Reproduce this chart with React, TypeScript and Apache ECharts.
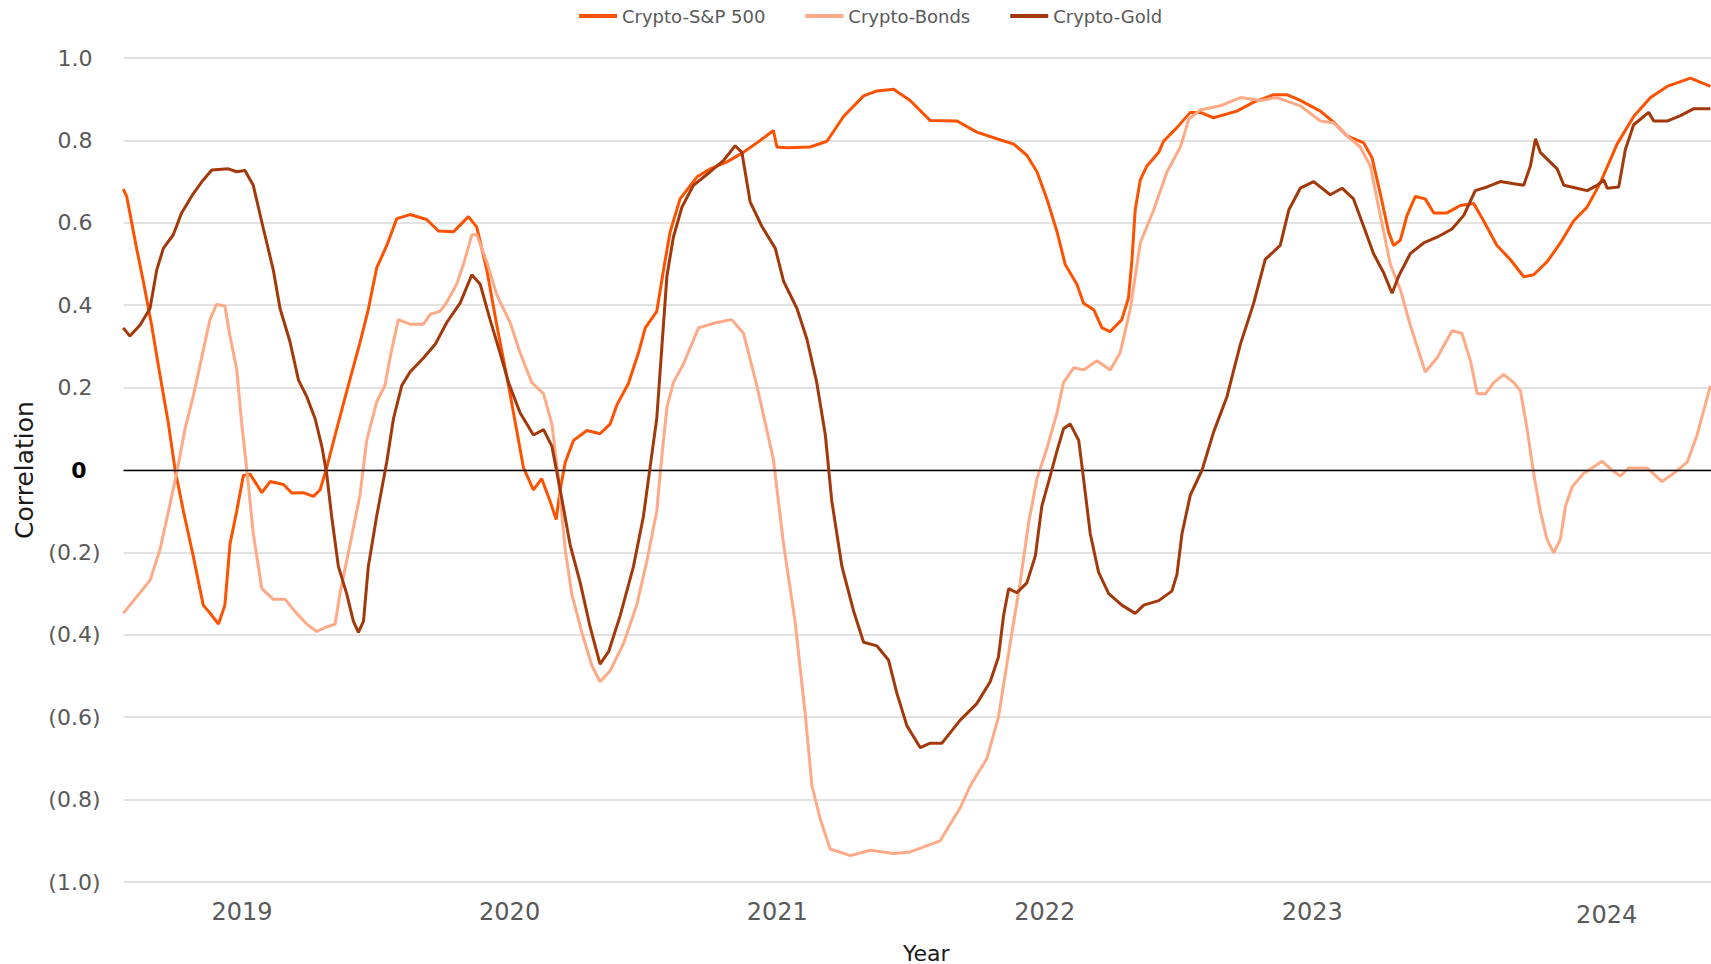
import React, { useEffect, useRef } from "react";
import * as echarts from "echarts";

const seriesNames = ["Crypto-S&P 500", "Crypto-Bonds", "Crypto-Gold"];
const seriesColors = ["#FF5200", "#FFAA86", "#A3390A"];
const yearLabelValues = [2019, 2020, 2021, 2022, 2023, 2024.1];

const spxT = [
  2018.556, 2018.569, 2018.606, 2018.631, 2018.662, 2018.693, 2018.725, 2018.75, 2018.781, 2018.818,
  2018.855, 2018.88, 2018.912, 2018.936, 2018.955, 2018.98, 2019.005, 2019.03, 2019.074, 2019.105,
  2019.155, 2019.186, 2019.229, 2019.267, 2019.292, 2019.317, 2019.354, 2019.391, 2019.441, 2019.472,
  2019.503, 2019.541, 2019.578, 2019.628, 2019.69, 2019.734, 2019.79, 2019.846, 2019.877, 2019.915,
  2019.952, 2019.996, 2020.052, 2020.089, 2020.12, 2020.151, 2020.174, 2020.189, 2020.208, 2020.239,
  2020.289, 2020.338, 2020.376, 2020.401, 2020.444, 2020.482, 2020.507, 2020.55, 2020.575, 2020.6,
  2020.637, 2020.7, 2020.75, 2020.812, 2020.874, 2020.924, 2020.986, 2020.999, 2021.036, 2021.123,
  2021.186, 2021.248, 2021.323, 2021.373, 2021.435, 2021.497, 2021.572, 2021.672, 2021.746, 2021.821,
  2021.884, 2021.933, 2021.971, 2022.008, 2022.046, 2022.077, 2022.12, 2022.145, 2022.183, 2022.214,
  2022.245, 2022.288, 2022.313, 2022.326, 2022.338, 2022.357, 2022.382, 2022.426, 2022.444, 2022.494,
  2022.544, 2022.581, 2022.631, 2022.718, 2022.781, 2022.855, 2022.905, 2022.955, 2023.03, 2023.08,
  2023.13, 2023.192, 2023.223, 2023.254, 2023.285, 2023.304, 2023.329, 2023.354, 2023.385, 2023.422,
  2023.454, 2023.503, 2023.553, 2023.603, 2023.64, 2023.69, 2023.74, 2023.79, 2023.827, 2023.877,
  2023.927, 2023.977, 2024.027, 2024.077, 2024.139, 2024.201, 2024.264, 2024.326, 2024.413, 2024.488,
];
const spxV = [
  0.682, 0.664, 0.538, 0.458, 0.352, 0.232, 0.112, 0.0, -0.1, -0.21,
  -0.328, -0.347, -0.374, -0.328, -0.18, -0.1, -0.013, -0.01, -0.055, -0.028,
  -0.035, -0.056, -0.055, -0.064, -0.048, 0.007, 0.1, 0.19, 0.31, 0.39,
  0.49, 0.545, 0.61, 0.62, 0.608, 0.58, 0.578, 0.615, 0.59, 0.485,
  0.352, 0.205, 0.005, -0.048, -0.021, -0.075, -0.12, -0.048, 0.019, 0.072,
  0.096, 0.088, 0.112, 0.158, 0.21, 0.285, 0.345, 0.385, 0.485, 0.578,
  0.658, 0.711, 0.731, 0.748, 0.771, 0.794, 0.824, 0.784, 0.782, 0.784,
  0.798, 0.858, 0.908, 0.92, 0.924, 0.897, 0.848, 0.847, 0.82, 0.804,
  0.791, 0.764, 0.724, 0.658, 0.578, 0.498, 0.451, 0.405, 0.389, 0.345,
  0.336, 0.365, 0.418, 0.511, 0.631, 0.704, 0.738, 0.771, 0.798, 0.831,
  0.868, 0.868, 0.855, 0.871, 0.893, 0.911, 0.911, 0.897, 0.871, 0.844,
  0.811, 0.794, 0.758, 0.671, 0.578, 0.545, 0.558, 0.618, 0.664, 0.658,
  0.624, 0.624, 0.642, 0.647, 0.605, 0.545, 0.511, 0.469, 0.474, 0.505,
  0.551, 0.605, 0.638, 0.698, 0.791, 0.858, 0.904, 0.931, 0.951, 0.931,
];

const bondsT = [
  2018.556, 2018.606, 2018.656, 2018.693, 2018.725, 2018.756, 2018.787, 2018.818, 2018.849, 2018.88,
  2018.905, 2018.936, 2018.955, 2018.98, 2018.999, 2019.017, 2019.042, 2019.074, 2019.117, 2019.161,
  2019.204, 2019.242, 2019.279, 2019.316, 2019.348, 2019.366, 2019.404, 2019.441, 2019.466, 2019.503,
  2019.534, 2019.553, 2019.584, 2019.628, 2019.678, 2019.703, 2019.74, 2019.765, 2019.802, 2019.827,
  2019.859, 2019.877, 2019.915, 2019.952, 2020.002, 2020.039, 2020.083, 2020.127, 2020.158, 2020.183,
  2020.208, 2020.232, 2020.27, 2020.307, 2020.338, 2020.376, 2020.426, 2020.475, 2020.513, 2020.55,
  2020.569, 2020.588, 2020.612, 2020.65, 2020.706, 2020.774, 2020.83, 2020.874, 2020.924, 2020.986,
  2021.024, 2021.067, 2021.105, 2021.13, 2021.161, 2021.198, 2021.273, 2021.348, 2021.435, 2021.497,
  2021.609, 2021.684, 2021.721, 2021.784, 2021.827, 2021.871, 2021.908, 2021.94, 2021.971, 2022.008,
  2022.046, 2022.07, 2022.108, 2022.145, 2022.195, 2022.245, 2022.282, 2022.32, 2022.357, 2022.407,
  2022.457, 2022.507, 2022.538, 2022.581, 2022.656, 2022.731, 2022.806, 2022.868, 2022.955, 2023.03,
  2023.08, 2023.13, 2023.179, 2023.217, 2023.254, 2023.292, 2023.329, 2023.366, 2023.422, 2023.466,
  2023.522, 2023.559, 2023.591, 2023.616, 2023.647, 2023.678, 2023.715, 2023.753, 2023.778, 2023.803,
  2023.827, 2023.852, 2023.877, 2023.902, 2023.927, 2023.946, 2023.971, 2024.014, 2024.052, 2024.083,
  2024.12, 2024.151, 2024.182, 2024.251, 2024.307, 2024.351, 2024.401, 2024.438, 2024.488,
];
const bondsV = [
  -0.348, -0.308, -0.268, -0.194, -0.1, -0.007, 0.1, 0.18, 0.272, 0.365,
  0.402, 0.398, 0.325, 0.245, 0.112, 0.006, -0.154, -0.288, -0.314, -0.314,
  -0.348, -0.374, -0.392, -0.381, -0.374, -0.3, -0.18, -0.06, 0.072, 0.165,
  0.205, 0.272, 0.365, 0.354, 0.354, 0.378, 0.385, 0.407, 0.451, 0.498,
  0.571, 0.571, 0.505, 0.425, 0.358, 0.285, 0.212, 0.185, 0.112, -0.021,
  -0.194, -0.3, -0.394, -0.474, -0.514, -0.487, -0.421, -0.328, -0.221, -0.1,
  0.033, 0.152, 0.212, 0.258, 0.345, 0.358, 0.365, 0.332, 0.205, 0.025,
  -0.181, -0.368, -0.594, -0.767, -0.847, -0.92, -0.936, -0.923, -0.931, -0.927,
  -0.9, -0.82, -0.767, -0.7, -0.6, -0.42, -0.274, -0.127, -0.021, 0.052,
  0.139, 0.212, 0.248, 0.243, 0.265, 0.243, 0.285, 0.392, 0.551, 0.631,
  0.724, 0.784, 0.851, 0.874, 0.884, 0.904, 0.897, 0.904, 0.884, 0.847,
  0.842, 0.811, 0.784, 0.738, 0.618, 0.498, 0.438, 0.352, 0.238, 0.272,
  0.338, 0.332, 0.265, 0.185, 0.185, 0.212, 0.232, 0.212, 0.192, 0.098,
  -0.007, -0.1, -0.168, -0.201, -0.168, -0.088, -0.041, -0.008, 0.008, 0.021,
  0.0, -0.015, 0.005, 0.005, -0.028, -0.008, 0.019, 0.085, 0.205,
];

const goldT = [
  2018.556, 2018.581, 2018.619, 2018.656, 2018.681, 2018.706, 2018.743, 2018.774, 2018.818, 2018.855,
  2018.887, 2018.949, 2018.98, 2019.011, 2019.042, 2019.08, 2019.117, 2019.142, 2019.179, 2019.211,
  2019.242, 2019.273, 2019.298, 2019.316, 2019.335, 2019.36, 2019.391, 2019.416, 2019.435, 2019.454,
  2019.472, 2019.503, 2019.541, 2019.566, 2019.597, 2019.628, 2019.678, 2019.722, 2019.765, 2019.815,
  2019.859, 2019.89, 2019.927, 2019.964, 2019.996, 2020.039, 2020.089, 2020.127, 2020.158, 2020.189,
  2020.226, 2020.264, 2020.301, 2020.338, 2020.37, 2020.413, 2020.463, 2020.5, 2020.525, 2020.55,
  2020.569, 2020.588, 2020.612, 2020.644, 2020.687, 2020.75, 2020.799, 2020.843, 2020.868, 2020.899,
  2020.943, 2020.993, 2021.024, 2021.074, 2021.111, 2021.148, 2021.18, 2021.204, 2021.242, 2021.285,
  2021.323, 2021.373, 2021.416, 2021.447, 2021.485, 2021.535, 2021.572, 2021.616, 2021.684, 2021.746,
  2021.796, 2021.827, 2021.846, 2021.865, 2021.896, 2021.933, 2021.965, 2021.989, 2022.021, 2022.046,
  2022.07, 2022.095, 2022.127, 2022.145, 2022.17, 2022.201, 2022.239, 2022.288, 2022.338, 2022.37,
  2022.426, 2022.475, 2022.494, 2022.513, 2022.544, 2022.588, 2022.631, 2022.681, 2022.731, 2022.781,
  2022.824, 2022.88, 2022.912, 2022.955, 2023.005, 2023.067, 2023.111, 2023.154, 2023.192, 2023.229,
  2023.267, 2023.298, 2023.323, 2023.366, 2023.416, 2023.466, 2023.522, 2023.566, 2023.609, 2023.653,
  2023.703, 2023.753, 2023.79, 2023.815, 2023.834, 2023.852, 2023.915, 2023.94, 2023.989, 2024.027,
  2024.064, 2024.089, 2024.102, 2024.145, 2024.17, 2024.201, 2024.257, 2024.276, 2024.326, 2024.376,
  2024.426, 2024.488,
];
const goldV = [
  0.345, 0.325, 0.352, 0.392, 0.485, 0.538, 0.571, 0.624, 0.671, 0.704,
  0.728, 0.731, 0.724, 0.727, 0.691, 0.585, 0.485, 0.392, 0.312, 0.218,
  0.178, 0.125, 0.058, -0.007, -0.113, -0.234, -0.3, -0.367, -0.394, -0.367,
  -0.234, -0.113, 0.02, 0.125, 0.205, 0.238, 0.272, 0.305, 0.358, 0.405,
  0.474, 0.451, 0.365, 0.285, 0.212, 0.139, 0.085, 0.098, 0.058, -0.048,
  -0.181, -0.274, -0.381, -0.471, -0.441, -0.354, -0.234, -0.113, 0.007, 0.125,
  0.298, 0.471, 0.565, 0.638, 0.691, 0.724, 0.751, 0.787, 0.771, 0.651,
  0.591, 0.538, 0.458, 0.392, 0.318, 0.212, 0.085, -0.075, -0.234, -0.341,
  -0.418, -0.427, -0.461, -0.541, -0.621, -0.674, -0.663, -0.663, -0.607, -0.567,
  -0.514, -0.454, -0.354, -0.288, -0.298, -0.274, -0.208, -0.088, -0.013, 0.047,
  0.1, 0.112, 0.072, -0.021, -0.154, -0.248, -0.3, -0.328, -0.348, -0.328,
  -0.317, -0.294, -0.254, -0.154, -0.061, 0.0, 0.092, 0.178, 0.305, 0.405,
  0.511, 0.545, 0.631, 0.684, 0.7, 0.668, 0.684, 0.658, 0.591, 0.525,
  0.478, 0.429, 0.471, 0.525, 0.551, 0.565, 0.585, 0.618, 0.678, 0.687,
  0.7, 0.695, 0.691, 0.738, 0.804, 0.771, 0.731, 0.691, 0.684, 0.678,
  0.691, 0.704, 0.684, 0.687, 0.778, 0.838, 0.868, 0.847, 0.847, 0.86,
  0.877, 0.877,
];

const zip = (t: number[], v: number[]) => t.map((x, i) => [x, v[i]]);

const FONT = "'DejaVu Sans', 'Liberation Sans', sans-serif";

export default function App() {
  const ref = useRef<HTMLDivElement>(null);
  useEffect(() => {
    if (!ref.current) return;
    const chart = echarts.init(ref.current, null, { renderer: "svg" });
    const tSeries = [zip(spxT, spxV), zip(bondsT, bondsV), zip(goldT, goldV)];
    chart.setOption({
      animation: false,
      backgroundColor: "#ffffff",
      legend: {
        data: seriesNames,
        top: 2,
        left: 574,
        icon: "rect",
        itemWidth: 38,
        itemHeight: 4,
        itemGap: 40,
        textStyle: { fontFamily: FONT, fontSize: 18, color: "#595959" },
      },
      grid: {
        left: 123.5,
        right: 0,
        top: 58,
        bottom: 82,
        containLabel: false,
        outerBoundsMode: "none",
      },
      xAxis: {
        type: "value",
        min: 2018.557,
        max: 2024.49,
        name: "Year",
        nameLocation: "middle",
        nameGap: 61,
        nameTextStyle: {
          fontFamily: FONT,
          fontSize: 22,
          lineHeight: 20,
          color: "#1a1a1a",
          padding: [0, 0, 0, 18],
        },
        axisLine: { show: false },
        axisTick: { show: false },
        splitLine: { show: false },
        axisLabel: {
          customValues: yearLabelValues,
          margin: 18,
          formatter: (v: number) =>
            v > 2024 ? "{d|" + Math.floor(v) + "}" : "{c|" + Math.round(v) + "}",
          rich: {
            c: { fontFamily: FONT, fontSize: 24, color: "#595959" },
            d: { fontFamily: FONT, fontSize: 24, color: "#595959", padding: [3, 0, 0, 0] },
          },
        },
      },
      yAxis: {
        type: "value",
        min: -1,
        max: 1,
        interval: 0.2,
        name: "Correlation",
        nameLocation: "middle",
        nameGap: 79,
        nameRotate: 90,
        nameTextStyle: { fontFamily: FONT, fontSize: 25, color: "#1a1a1a" },
        axisLine: { show: false },
        axisTick: { show: false },
        splitLine: { show: true, lineStyle: { color: "#d9d9d9", width: 1.6 } },
        axisLabel: {
          margin: 23,
          formatter: (v: number) => {
            const r = Math.round(v * 10) / 10;
            if (Math.abs(r) < 1e-9) return "{z|0}";
            if (r > 0) return "{p|" + r.toFixed(1) + "}";
            return "{n|(" + (-r).toFixed(1) + ")}";
          },
          rich: {
            p: { fontFamily: FONT, fontSize: 22, color: "#595959", padding: [0, 8, 0, 0] },
            n: { fontFamily: FONT, fontSize: 22, color: "#595959" },
            z: { fontFamily: FONT, fontSize: 22, fontWeight: "bold", color: "#000000", padding: [0, 14, 0, 0] },
          },
        },
      },
      series: seriesNames.map((name, i) => ({
        name,
        type: "line",
        data: tSeries[i],
        symbol: "none",
        showSymbol: false,
        smooth: false,
        lineStyle: { width: 3, color: seriesColors[i] },
        itemStyle: { color: seriesColors[i] },
        z: 3 + i,
        ...(i === 0
          ? {
              markLine: {
                silent: true,
                symbol: "none",
                label: { show: false },
                lineStyle: { color: "#000000", width: 1.3, type: "solid" },
                data: [{ yAxis: 0 }],
              },
            }
          : {}),
      })),
    });
    return () => chart.dispose();
  }, []);
  return (
    <div
      ref={ref}
      style={{ position: "fixed", left: 0, top: 0, width: 1711, height: 964, background: "#fff" }}
    />
  );
}
